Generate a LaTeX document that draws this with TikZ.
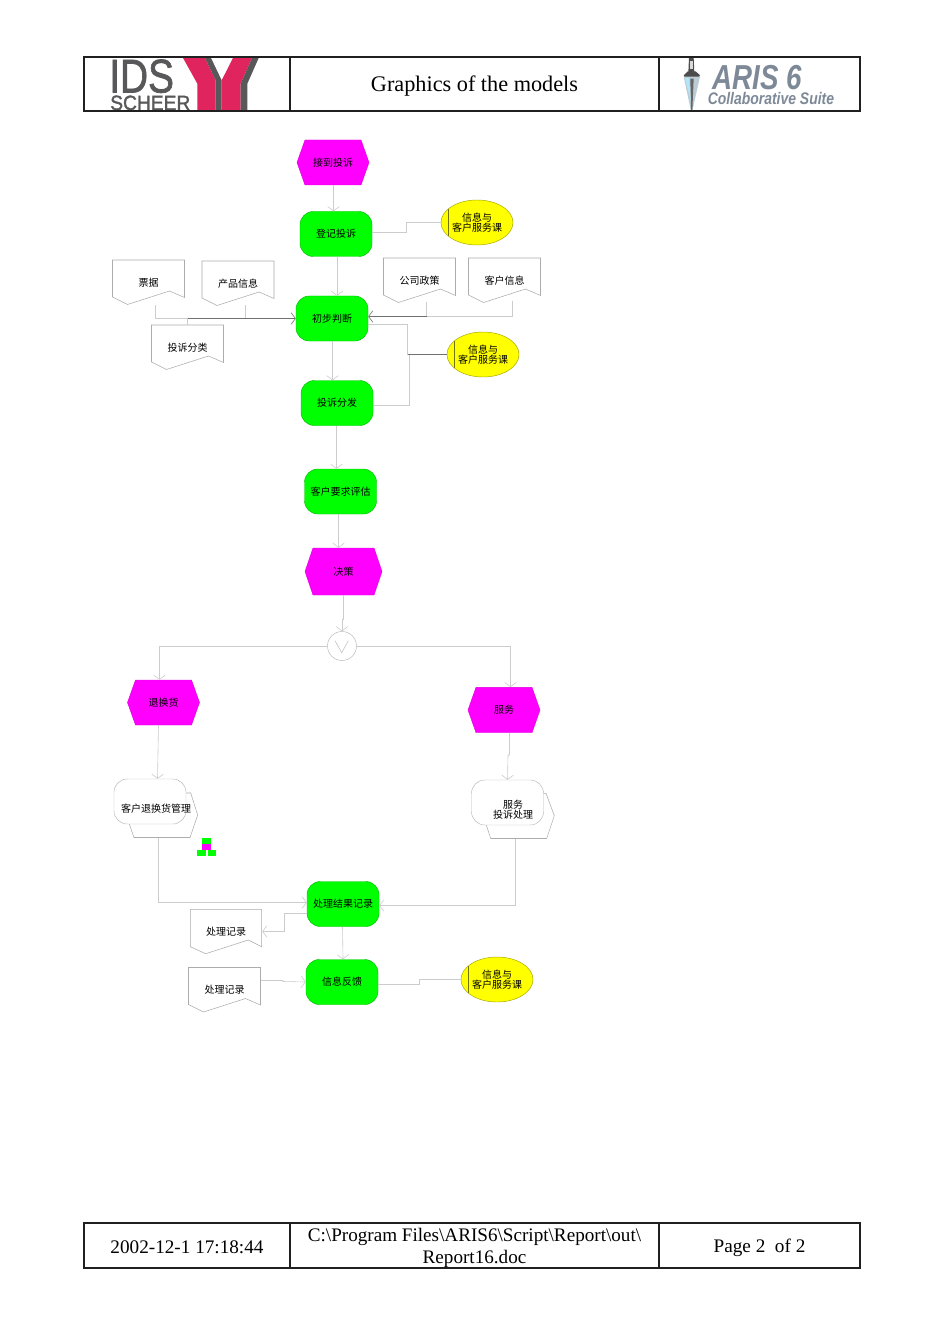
\documentclass[tikz,border=0pt]{standalone}
\usepackage{fontspec}
\setmainfont{Liberation Serif}
\newfontfamily\cjk{Noto Sans CJK SC}
\newfontfamily\lsans{Liberation Sans}
\newfontfamily\idsfont[RawFeature={embolden=1.6}]{Liberation Sans}
\usetikzlibrary{arrows.meta,calc,shapes.geometric}
\definecolor{conn}{HTML}{CCCCCC}
\definecolor{connd}{HTML}{707070}
\definecolor{logogrey}{HTML}{58585A}
\definecolor{logored}{HTML}{E0245E}
\definecolor{arisgrey}{HTML}{7E8998}
\definecolor{evmag}{HTML}{FF00FF}
\definecolor{fngreen}{HTML}{00FF00}
\definecolor{orgyel}{HTML}{FFFF00}
\definecolor{frameink}{HTML}{202020}
\tikzset{
  px/.style={x=0.75pt,y=-0.75pt},
  lbl/.style={font=\cjk\fontsize{7.5}{7.6}\selectfont,align=center,inner sep=0pt,text=black},
  slot/.style={lbl,minimum width=54pt,minimum height=33.75pt},
  fnbox/.style={slot,draw=#1,rounded corners=10pt,line width=0.35pt},
  greenbox/.style={fnbox={fngreen!75!black},fill=fngreen},
  whitebox/.style={fnbox=gray!55,fill=white},
  orgbox/.style={lbl,ellipse,draw=orgyel!65!black,fill=orgyel,line width=0.35pt,minimum width=54pt,minimum height=33.75pt,
    path picture={\draw[orgyel!45!black,line width=0.3pt] ($(path picture bounding box.center)+(-29,-13.3)$) -- ++(0,26.6);}},
  hexshape/.style={draw=evmag!85!black,fill=evmag,line width=0.3pt},
  docshape/.style={draw=gray!65,fill=white,line width=0.4pt},
  backshape/.style={draw=gray!65,fill=white,line width=0.4pt},
  link/.style={draw=conn,line width=0.45pt},
  darklink/.style={draw=connd,line width=0.45pt},
  tip/.style={-{Straight Barb[length=3.2pt,width=8.5pt,round]}},
  frame/.style={draw=frameink,line width=0.8pt},
  celltext/.style={inner sep=0pt,align=center,font=\fontsize{#1}{16.5}\selectfont},
  mini/.style={fill=#1,draw=none},
}
\newcommand{\hexn}[6]{% name x y halfw halfh text
  \path[hexshape] (#2-#4,#3) -- (#2-#4+8,#3-#5) -- (#2+#4-8,#3-#5) -- (#2+#4,#3) -- (#2+#4-8,#3+#5) -- (#2-#4+8,#3+#5) -- cycle;
  \node[lbl,minimum width=1.5*#4 pt,minimum height=1.5*#5 pt] (#1) at (#2,#3) {#6};}
\newcommand{\docn}[4]{% name x y text (x,y = centre of the 72x45 box)
  \path[docshape] (#2-36,#3-22.5) -- (#2+36,#3-22.5) -- (#2+36,#3+15) -- (#2+21,#3+8.5) -- (#2-21,#3+22) -- (#2-36,#3+14.5) -- cycle;
  \node[slot] (#1) at (#2,#3) {#4};}
\begin{document}
\begin{tikzpicture}[px]
\useasboundingbox (0,0) rectangle (950,1344);
\fill[white] (0,0) rectangle (950,1344);

% header
\coordinate (ht1) at (290,57); \coordinate (hb1) at (290,111);
\coordinate (ht2) at (659,57); \coordinate (hb2) at (659,111);
\node[celltext=16.7] (hB) at (474.5,86.5) {Graphics of the models};

% IDS logo
\node[anchor=base west,inner sep=0pt,text=logogrey,font=\idsfont\fontsize{35.5}{35.5}\selectfont] (ids) at (109,92.5) {\scalebox{.82}[1]{IDS}};
\node[anchor=base west,inner sep=0pt,text=logogrey,font=\idsfont\fontsize{15.5}{15.5}\selectfont] (sch) at (110,110) {\scalebox{.93}[1]{SCHEER}};
\begin{scope}[shift={(84,52)},scale=1/3]
  \fill[logored] (296,16) -- (362,16) -- (395,85) -- (395,174) -- (340,174) -- (340,95) -- cycle;
  \fill[logogrey] (362,16) -- (380,16) -- (413,85) -- (413,174) -- (395,174) -- (395,85) -- cycle;
  \fill[logored] (413,85) -- (448,16) -- (505,16) -- (470,95) -- (470,174) -- (413,174) -- cycle;
  \fill[logogrey] (505,16) -- (525,16) -- (490,95) -- (490,174) -- (470,174) -- (470,95) -- cycle;
\end{scope}

% ARIS logo
\begin{scope}[shift={(665,52)},scale=1/3]
  \fill[gray!60!black] (72,18) -- (86,18) -- (88,62) -- (70,62) -- cycle;
  \fill[gray!30] (74,28) rectangle (84,50);
  \fill[black!70] (56,70) -- (68,58) -- (92,58) -- (105,70) -- (98,80) -- (62,80) -- cycle;
  \fill[cyan!25!gray!50] (56,74) -- (105,74) -- (82,176) -- (78,176) -- cycle;
  \fill[black!60] (76,80) -- (78,176) -- (82,176) -- (86,80) -- cycle;
  \fill[cyan!30!white] (60,78) -- (72,78) -- (78,150) -- cycle;
\end{scope}
\node[anchor=west,inner sep=0pt,text=arisgrey,font=\lsans\bfseries\itshape\fontsize{26}{26}\selectfont] (aris) at (712,77.5) {\scalebox{.8}[1]{ARIS 6}};
\node[anchor=west,inner sep=0pt,text=arisgrey,font=\lsans\bfseries\itshape\fontsize{12.6}{12.6}\selectfont] (collab) at (707.5,98.5) {\scalebox{.83}[1]{Collaborative Suite}};

\draw[frame] (84,57) rectangle (860,111);
\draw[frame] (ht1) -- (hb1);
\draw[frame] (ht2) -- (hb2);

% footer
\coordinate (ft1) at (290,1223); \coordinate (fb1) at (290,1268);
\coordinate (ft2) at (659,1223); \coordinate (fb2) at (659,1268);
\node[celltext=14.4] (fA) at (187,1247) {2002-12-1 17:18:44};
\node[celltext=14.35] (fB) at (474.5,1248) {C:\textbackslash Program Files\textbackslash ARIS6\textbackslash Script\textbackslash Report\textbackslash out\textbackslash\\Report16.doc};
\node[celltext=14.4] (fC) at (759.5,1248) {Page 2\ \ of 2};
\draw[frame] (84,1223) rectangle (860,1268);
\draw[frame] (ft1) -- (fb1);
\draw[frame] (ft2) -- (fb2);

% back shapes of the process interfaces
\path[backshape] (186,793) -- (190.7,793) -- (197.7,815) -- (190,837.5) -- (134,837.5) -- (129.3,824) -- cycle;
\path[backshape] (543.3,793.3) -- (546,793.3) -- (554.3,815.7) -- (546.7,838.5) -- (490.7,838.5) -- (486,824.3) -- cycle;

% nodes
\hexn{e1}{333}{162.5}{36}{22.5}{接到投诉}
\node[greenbox] (f1) at (336,234) {登记投诉};
\node[orgbox] (o1) at (477,222.5) {信息与\\客户服务课};
\docn{d1}{148.5}{282.5}{票据}
\docn{d2}{238}{283.5}{产品信息}
\docn{d3}{187.5}{347.5}{投诉分类}
\docn{d4}{419.5}{280.5}{公司政策}
\docn{d5}{504.5}{280.5}{客户信息}
\node[greenbox] (f2) at (332,318.5) {初步判断};
\node[orgbox] (o2) at (483,354.5) {信息与\\客户服务课};
\node[greenbox] (f3) at (337,403) {投诉分发};
\node[greenbox] (f4) at (340.5,491.5) {客户要求评估};
\hexn{e2}{343.5}{571.5}{38.5}{23.5}{决策}
\node[circle,draw=gray!55,fill=white,line width=0.35pt,minimum size=21.75pt,inner sep=0pt] (x1) at (342,646) {};
\draw[gray!55,line width=0.35pt] ($(x1.center)+(-7,-5.3)$) -- ($(x1.center)+(-0.3,6.7)$) -- ($(x1.center)+(6.3,-5.3)$);
\hexn{e3}{163.5}{702.5}{36}{22.5}{退换货}
\hexn{e4}{504}{710}{36}{22.7}{服务}
\node[whitebox] (p1) at (150,801.5) {};
\node[lbl] (p1t) at (156,808.5) {客户退换货管理};
\node[whitebox] (p2) at (507.5,802.5) {};
\node[lbl] (p2t) at (513,810) {服务\\投诉处理};
% small hierarchy symbol
\fill[mini=fngreen] (202.3,837.7) rectangle (210.7,843.5);
\fill[mini=evmag] (202.3,844) rectangle (210.7,850);
\fill[mini=fngreen] (197.3,850.3) rectangle (205.7,856.3);
\fill[mini=fngreen] (208,850.3) rectangle (216,856.3);
\node[greenbox] (f5) at (343,904) {处理结果记录};
\path[docshape] (190.3,909.3) -- (261.7,909.3) -- (261.7,946.7) -- (248.3,940) -- (205.7,953.7) -- (190.3,946.7) -- cycle;
\node[slot] (d6) at (226,931.5) {处理记录};
\docn{d7}{224.5}{990}{处理记录}
\node[greenbox] (f6) at (342,982) {信息反馈};
\node[orgbox] (o3) at (497,979.5) {信息与\\客户服务课};

% connectors
\draw[link,tip] ($(e1.south)+(0.5,0)$) -- ($(f1.north)+(-2.5,0)$);
\draw[link] (f1.east) ++(0,-2) -| (406.5,222.5) -- (o1.west);
\draw[link,tip] ($(f1.south)+(1,0)$) -- ($(f2.north)+(5,0)$);
\draw[link] ($(d1.south)+(6.5,0)$) |- (187.5,318.5);
\draw[link] ($(d2.south)+(7.5,-1)$) -- (245.5,318.5);
\draw[link] (d3.north) -- (187.5,318.5);
\draw[darklink,tip] (187.5,318.5) -- (f2.west);
\draw[link] ($(d5.south)+(7.5,-2)$) |- (426.5,316.5);
\draw[link] ($(d4.south)+(7,-1)$) -- (426.5,316.5);
\draw[darklink,tip] (426.5,316.5) -- ($(f2.east)+(0,-2)$);
\draw[link] ($(f2.east)+(0,6)$) -| (407.5,354.5);
\draw[darklink] (407.5,354.5) -- (o2.west);
\draw[link] (f3.east) ++(0,2) -| (409.5,354.5);
\draw[link,tip] ($(f2.south)+(0.5,0)$) -- ($(f3.north)+(-4.5,0)$);
\draw[link,tip] ($(f3.south)+(-0.5,0)$) -- ($(f4.north)+(-4,0)$);
\draw[link,tip] ($(f4.south)+(-2,0)$) -- ($(e2.north)+(-5,0)$);
\draw[link,tip] ($(e2.south)$) -- (343.5,619) -- (342,619) -- (x1.north);
\draw[link,tip] (x1.west) -| ($(e3.north)+(-4,0)$);
\draw[link,tip] (x1.east) -| ($(e4.north)+(6.5,0)$);
\draw[link,tip] ($(e3.south)+(-5,0)$) -- (158,752) -- ($(p1.north)+(7.5,0)$);
\draw[link,tip] ($(e4.south)+(5.5,0)$) -- (509.5,755) -- (508,755) -- (p2.north);
\draw[link,tip] (158.5,837.5) |- ($(f5.west)+(0,-1.5)$);
\draw[link,tip] (515,838.5) |- ($(f5.east)+(0,1.5)$);
\draw[link,tip] ($(f5.west)+(0,9)$) -- (284.5,913) -- (284.5,931.5) -- (d6.east);
\draw[link,tip] ($(f5.south)+(-0.5,0)$) -- ($(f6.north)+(1,0)$);
\draw[link,tip] ($(d7.east)+(0,-9.5)$) -- (283,980.5) -- (283,981.5) -- (f6.west);
\draw[link] ($(f6.east)+(0,2.5)$) -| (419.5,979.5) -- (o3.west);
\end{tikzpicture}
\end{document}
